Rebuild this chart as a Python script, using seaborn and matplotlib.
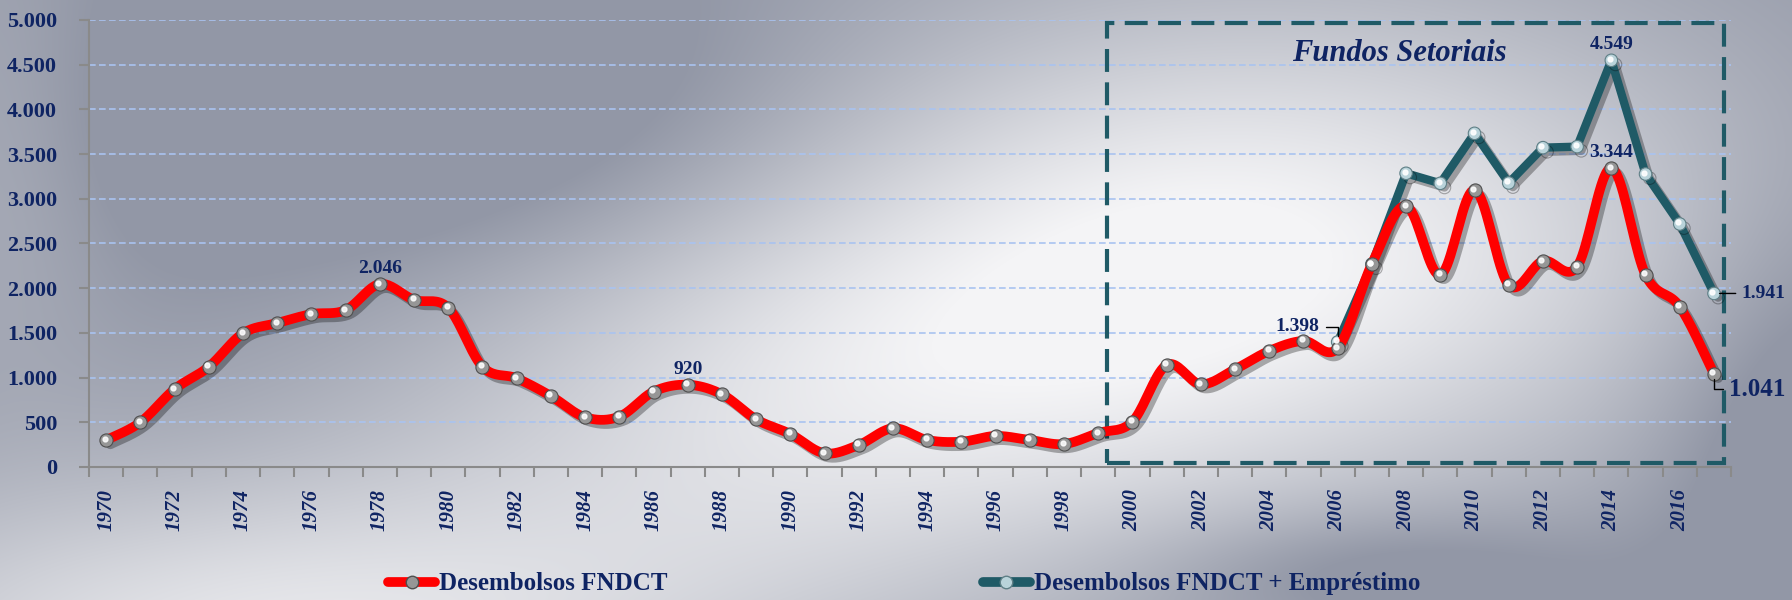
import numpy as np
import pandas as pd
import matplotlib
matplotlib.use("Agg")
import matplotlib.pyplot as plt
import matplotlib.patheffects as pe
import matplotlib.transforms as mtransforms
from matplotlib.lines import Line2D
from matplotlib.patches import Rectangle
import seaborn as sns

# ------------------ Data ------------------
years = list(range(1970, 2018))
fndct = [300, 500, 870, 1120, 1495, 1610, 1710, 1755, 2046, 1870,
         1780, 1122, 992, 794, 556, 563, 843, 920, 813, 533,
         369, 153, 246, 433, 302, 283, 347, 302, 257, 380,
         507, 1141, 925, 1093, 1298, 1410, 1330, 2270, 2919, 2148,
         3098, 2036, 2304, 2241, 3344, 2148, 1793, 1041]
fndct_emp = [np.nan] * 36 + [1398, 2270, 3285, 3173, 3732, 3177,
                             3572, 3583, 4549, 3277, 2718, 1941]
series_names = ["Desembolsos FNDCT", "Desembolsos FNDCT + Empréstimo"]
box_title = "Fundos Setoriais"

df = pd.DataFrame({"idx": np.arange(len(years)), "year": years,
                   "fndct": fndct, "emp": fndct_emp})

NAVY = "#0f2463"
RED = "#ff0000"
TEAL = "#1f5a66"

sns.set_style("ticks")
plt.rcParams["font.family"] = ["Liberation Serif", "DejaVu Serif"]
plt.rcParams["font.weight"] = "bold"


def smooth(x, y, n=20):
    # excel-like smoothed line (bezier through the points)
    x = np.asarray(x, float)
    y = np.asarray(y, float)
    px = np.r_[x[0], x, x[-1]]
    py = np.r_[y[0], y, y[-1]]
    t = np.linspace(0, 1, n, endpoint=False)[:, None]
    outx, outy = [], []
    for i in range(1, len(px) - 2):
        for arr, out in ((px, outx), (py, outy)):
            p0, p1, p2, p3 = arr[i - 1], arr[i], arr[i + 1], arr[i + 2]
            c1 = p1 + (p2 - p0) / 6
            c2 = p2 - (p3 - p1) / 6
            b = ((1 - t) ** 3 * p1 + 3 * (1 - t) ** 2 * t * c1
                 + 3 * (1 - t) * t ** 2 * c2 + t ** 3 * p2)
            out.extend(b.ravel())
    outx.append(x[-1])
    outy.append(y[-1])
    return np.array(outx), np.array(outy)


fig = plt.figure(figsize=(17.92, 6), dpi=100)

# ------------------ Background gradient ------------------
H, W = 600, 1792
yy, xx = np.mgrid[0:H, 0:W]


def blob(cx, cy, sx, sy):
    return np.exp(-(((xx - cx) / sx) ** 2 + ((yy - cy) / sy) ** 2))


base = np.array([146, 151, 166]) / 255
white = np.array([244, 244, 246]) / 255
w = (0.95 * blob(1250, 240, 520, 260) + 0.8 * blob(250, 640, 520, 170)
     + 0.55 * blob(800, 420, 450, 220) + 0.25 * blob(0, 150, 120, 250))
w = (w - 0.35 * blob(450, 120, 400, 160) - 0.35 * blob(1800, 430, 140, 220)
     - 0.3 * blob(1380, 570, 220, 60))
w = np.clip(w, 0, 1)
img = base * (1 - w[..., None]) + white * w[..., None]
bg = fig.add_axes([0, 0, 1, 1], zorder=-10)
bg.imshow(img, aspect="auto")
bg.axis("off")

ax = fig.add_axes([0.0497, 0.2217, 0.9163, 0.745])
ax.patch.set_alpha(0)

shadow = [pe.SimpleLineShadow(offset=(3, -3), shadow_color="black", alpha=0.3),
          pe.Normal()]

# ------------------ Lines ------------------
sx, sy = smooth(df["idx"], df["fndct"])
ax.plot(sx, sy, color=RED, lw=7, solid_capstyle="round", zorder=3,
        path_effects=shadow)
sns.scatterplot(data=df, x="idx", y="fndct", ax=ax, s=90, color="#969696",
                edgecolor="#4f4f4f", linewidth=0.8, zorder=4, legend=False)

sns.lineplot(data=df, x="idx", y="emp", ax=ax, color=TEAL, lw=6, zorder=2,
             marker="o", ms=9, mfc="#b9d3da", mec="#5f7f86", mew=0.8)
ax.lines[-1].set_path_effects(shadow)

# sphere highlights
hl = mtransforms.offset_copy(ax.transData, fig=fig, x=-1.5, y=1.5, units="dots")
ax.plot(df["idx"], df["fndct"], "o", ms=3.5, color="white", alpha=0.85,
        transform=hl, zorder=5)
ax.plot(df["idx"], df["emp"], "o", ms=3.5, color="white", alpha=0.9,
        transform=hl, zorder=5)

# ------------------ Data labels ------------------
lab = dict(color=NAVY, fontsize=14, fontweight="bold", textcoords="offset points")
for yr, val in [(1978, 2046), (1987, 920), (2014, 4549), (2014, 3344)]:
    i = years.index(yr)
    ax.annotate(f"{val:,}".replace(",", "."), (i, val), xytext=(0, 5),
                ha="center", va="bottom", zorder=6, **lab)

i06 = years.index(2006)
ax.annotate("1.398", (i06, fndct_emp[i06]), xytext=(-13, 11), ha="right",
            va="center", zorder=6,
            arrowprops=dict(arrowstyle="-", color="black", lw=1, shrinkA=2,
                            shrinkB=4, connectionstyle="angle,angleA=0,angleB=90,rad=0"),
            **lab)
i17 = years.index(2017)
ax.annotate("1.941", (i17, fndct_emp[i17]), xytext=(20, 0), ha="left",
            va="center", zorder=6,
            arrowprops=dict(arrowstyle="-", color="black", lw=1, shrinkA=2, shrinkB=4),
            **lab)
lab18 = dict(lab, fontsize=18)
ax.annotate("1.041", (i17, fndct[i17]), xytext=(11, -11), ha="left",
            va="center", zorder=6,
            arrowprops=dict(arrowstyle="-", color="black", lw=1, shrinkA=2,
                            shrinkB=4, connectionstyle="angle,angleA=0,angleB=90,rad=0"),
            **lab18)

# ------------------ Fundos Setoriais box ------------------
ax.add_patch(Rectangle((29.26, 45), 47.3 - 29.26, 4966 - 45, fill=False,
                       ec=TEAL, lw=3, ls=(0, (5.5, 2.5)), clip_on=False, zorder=1))
ax.text(37.8, 4630, box_title, color=NAVY, fontsize=22, fontweight="bold",
        fontstyle="italic", ha="center", va="center")

# ------------------ Axes ------------------
ax.set_xlim(-0.5, len(years) - 0.5)
ax.set_ylim(0, 5000)
yt = np.arange(0, 5001, 500)
ax.set_yticks(yt)
ax.set_yticklabels([f"{v:,}".replace(",", ".") for v in yt], color=NAVY,
                   fontsize=16, fontweight="bold")
even = [i for i, yv in enumerate(years) if yv % 2 == 0]
ax.set_xticks(even)
ax.set_xticklabels([str(years[i]) for i in even], rotation=90, color=NAVY,
                   fontsize=15, fontweight="bold", fontstyle="italic")
ax.set_xticks(np.arange(-0.5, len(years), 1), minor=True)
ax.tick_params(axis="x", which="major", length=0, pad=16)
ax.tick_params(axis="x", which="minor", length=7, color="#8a8a8a", width=1.5)
ax.tick_params(axis="y", length=7, color="#8a8a8a", width=1.5, pad=16)
ax.set_xlabel("")
ax.set_ylabel("")
ax.yaxis.grid(True, ls=(0, (4, 2)), color="#a9c3f0", lw=1.2, zorder=0)
ax.set_axisbelow(True)
for s in ["top", "right"]:
    ax.spines[s].set_visible(False)
for s in ["left", "bottom"]:
    ax.spines[s].set_color("#8a8a8a")
    ax.spines[s].set_linewidth(1.5)

# ------------------ Legend ------------------
handles = [Line2D([0], [0], color=RED, lw=7, marker="o", ms=9, mfc="#969696", mec="#4f4f4f"),
           Line2D([0], [0], color=TEAL, lw=7, marker="o", ms=9, mfc="#b9d3da", mec="#5f7f86")]
fig.legend(handles, series_names, loc="center", bbox_to_anchor=(0.5045, 0.027),
           ncol=2, frameon=False, handlelength=1.9, handletextpad=0.15,
           columnspacing=12.6, prop=dict(size=18, weight="bold"),
           labelcolor=NAVY)

fig.savefig("out.png", dpi=100)
